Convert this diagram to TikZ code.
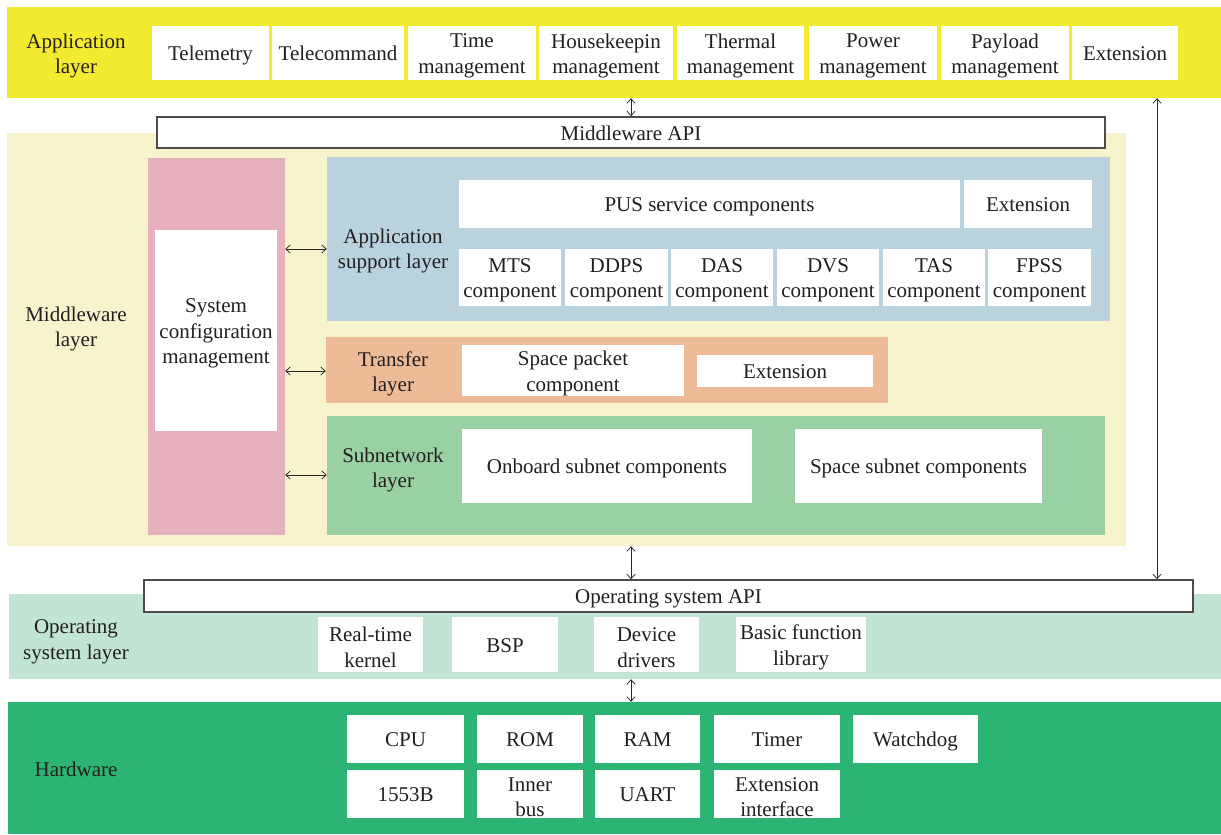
\documentclass[tikz,border=0pt]{standalone}
\usepackage{fontspec}
\setmainfont{Liberation Serif}
\usetikzlibrary{arrows.meta}
\definecolor{cApp}{RGB}{242,235,47}
\definecolor{cMid}{RGB}{247,243,205}
\definecolor{cPink}{RGB}{230,176,188}
\definecolor{cBlue}{RGB}{185,210,222}
\definecolor{cOrange}{RGB}{238,187,152}
\definecolor{cSub}{RGB}{154,209,164}
\definecolor{cOS}{RGB}{194,228,212}
\definecolor{cHW}{RGB}{43,180,115}
\definecolor{cTxt}{RGB}{35,31,32}
\tikzset{
  txt/.style={font=\fontsize{21}{25.5}\selectfont, text=cTxt, align=center, inner sep=0pt},
  wbox/.style={fill=white, inner sep=0pt, draw=none},
  sl/.style={text height=14pt, text depth=5pt},
  band/.style={inner sep=0pt, draw=none},
  apibox/.style={fill=white, draw=black!70, line width=1.4pt, inner sep=0pt},
  lbl/.style={txt, yshift=-2pt},
  dar/.style={{Straight Barb[length=4.5pt,width=8pt]}-{Straight Barb[length=4.5pt,width=8pt]}, line width=0.75pt, draw=black!85}
}
% #1 box style, #2 name, #3-#6 corners, #7 text, #8 extra text style
\newcommand\mybox[8][wbox]{\node[#1, minimum width={(#5-#3)*1pt}, minimum height={(#6-#4)*1pt}] (#2) at ({(#3+#5)/2},{(#4+#6)/2}) {};
  \node[txt,#8] (#2-t) at ([yshift=-3pt]#2.center) {#7};}
\begin{document}
\begin{tikzpicture}[x=1pt,y=-1pt]
\useasboundingbox (0,0) rectangle (1221,835);
% ---------- Application layer
\node[band,fill=cApp,minimum width=1214pt,minimum height=91pt] (app) at (614,52.5) {};
\node[lbl] (applbl) at (76,54) {Application\\layer};
\mybox{tm}{152}{26}{269}{80}{Telemetry}{sl}
\mybox{tc}{272}{26}{404}{80}{Telecommand}{sl}
\mybox{tim}{408}{26}{536}{80}{Time\\management}{}
\mybox{hk}{539}{26}{673}{80}{Housekeepin\\management}{}
\mybox{th}{677}{26}{804}{80}{Thermal\\management}{}
\mybox{pw}{809}{26}{937}{80}{Power\\management}{}
\mybox{pl}{941}{26}{1069}{80}{Payload\\management}{}
\mybox{ext1}{1072}{26}{1178}{80}{Extension}{sl}
% ---------- Middleware layer
\node[band,fill=cMid,minimum width=1119pt,minimum height=413pt] (mid) at (566.5,339.5) {};
\mybox[apibox]{mwapi}{157}{117}{1105}{148}{Middleware API}{sl}
\node[lbl] (midlbl) at (76,327) {Middleware\\layer};
\node[band,fill=cPink,minimum width=137pt,minimum height=377pt] (pink) at (216.5,346.5) {};
\mybox{scm}{155}{230}{277}{431}{System\\configuration\\management}{}
% application support layer
\node[band,fill=cBlue,minimum width=783pt,minimum height=164pt] (asl) at (718.5,239) {};
\node[lbl] (asllbl) at (393,249) {Application\\support layer};
\mybox{pus}{459}{180}{960}{228}{PUS service components}{sl}
\mybox{ext2}{964}{180}{1092}{228}{Extension}{sl}
\mybox{mts}{459}{249}{561}{306}{MTS\\component}{}
\mybox{ddps}{565}{249}{668}{306}{DDPS\\component}{}
\mybox{das}{671}{249}{773}{306}{DAS\\component}{}
\mybox{dvs}{777}{249}{879}{306}{DVS\\component}{}
\mybox{tas}{883}{249}{985}{306}{TAS\\component}{}
\mybox{fpss}{988}{249}{1091}{306}{FPSS\\component}{}
% transfer layer
\node[band,fill=cOrange,minimum width=562pt,minimum height=66pt] (tl) at (607,370) {};
\node[lbl] (tllbl) at (393,372) {Transfer\\layer};
\mybox{spc}{462}{345}{684}{396}{Space packet\\component}{}
\mybox{ext3}{697}{355}{873}{387}{Extension}{sl}
% subnetwork layer
\node[band,fill=cSub,minimum width=778pt,minimum height=119pt] (sn) at (716,475.5) {};
\node[lbl] (snlbl) at (393,468) {Subnetwork\\layer};
\mybox{obs}{462}{429}{752}{503}{Onboard subnet components}{sl}
\mybox{sss}{795}{429}{1042}{503}{Space subnet components}{sl}
% ---------- Operating system layer
\node[band,fill=cOS,minimum width=1212pt,minimum height=85pt] (os) at (615,636.5) {};
\mybox[apibox]{osapi}{144}{580}{1193}{612}{Operating system API}{sl}
\node[lbl] (oslbl) at (76,640) {Operating\\system layer};
\mybox{rtk}{318}{617}{423}{672}{Real-time\\kernel}{}
\mybox{bsp}{452}{617}{558}{672}{BSP}{sl}
\mybox{dd}{594}{617}{699}{672}{Device\\drivers}{}
\mybox{bfl}{736}{617}{866}{672}{Basic function\\library}{}
% ---------- Hardware
\node[band,fill=cHW,minimum width=1213pt,minimum height=132pt] (hw) at (614.5,768) {};
\node[lbl,sl] (hwlbl) at (76,770) {Hardware};
\mybox{cpu}{347}{715}{464}{763}{CPU}{sl}
\mybox{rom}{477}{715}{583}{763}{ROM}{sl}
\mybox{ram}{595}{715}{700}{763}{RAM}{sl}
\mybox{tmr}{714}{715}{840}{763}{Timer}{sl}
\mybox{wd}{853}{715}{978}{763}{Watchdog}{sl}
\mybox{b1553}{347}{770}{464}{818}{1553B}{sl}
\mybox{ib}{477}{770}{583}{818}{Inner\\bus}{}
\mybox{uart}{595}{770}{700}{818}{UART}{sl}
\mybox{ei}{714}{770}{840}{818}{Extension\\interface}{}
% ---------- connectors
\coordinate (xa) at (631,0);
\coordinate (xr) at (1157,0);
\coordinate (y1) at (0,249);
\coordinate (y2) at (0,371);
\coordinate (y3) at (0,475);
\draw[dar] (app.south -| xa) -- (mwapi.north -| xa);
\draw[dar] (mid.south -| xa) -- (osapi.north -| xa);
\draw[dar] (os.south -| xa) -- (hw.north -| xa);
\draw[dar] (app.south -| xr) -- (osapi.north -| xr);
\draw[dar] (pink.east |- y1) -- (asl.west |- y1);
\draw[dar] (pink.east |- y2) -- (tl.west |- y2);
\draw[dar] (pink.east |- y3) -- (sn.west |- y3);
\end{tikzpicture}
\end{document}
